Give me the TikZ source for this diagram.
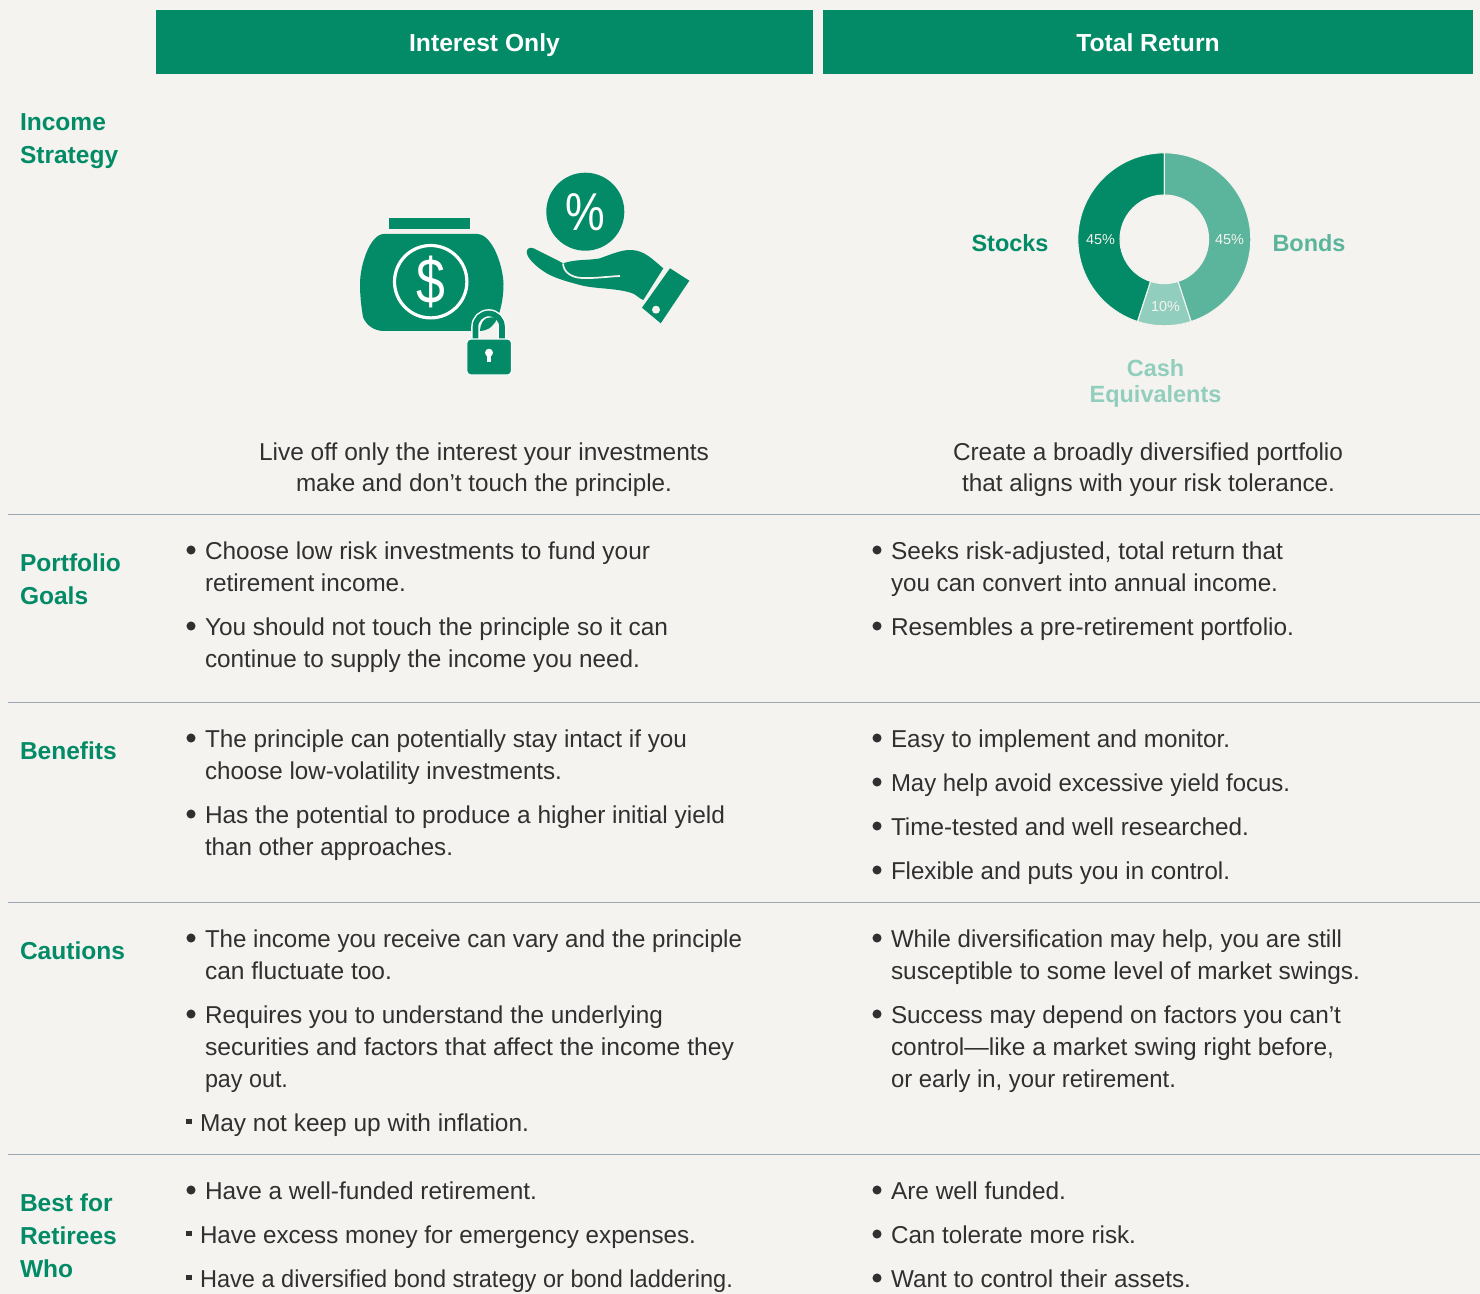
\documentclass[tikz,border=0pt]{standalone}
\usepackage{graphicx}
\usepackage{fontspec}
\setmainfont{Liberation Sans}
\definecolor{bgc}{HTML}{F4F3EF}
\definecolor{grn}{HTML}{028B66}
\definecolor{grnb}{HTML}{5BB59C}
\definecolor{grnc}{HTML}{92CEBD}
\definecolor{txtc}{HTML}{303030}
\definecolor{rulec}{HTML}{9AA6B2}
\newcount\itemno
\newdimen\fitw
\tikzset{
  bodytext/.style={inner sep=0pt,outer sep=0pt,anchor=base west,text=txtc,font=\fontsize{18.3}{22}\selectfont},
  headtext/.style={inner sep=0pt,outer sep=0pt,anchor=base west,text=grn,font=\fontsize{18.4}{22}\selectfont\bfseries},
  keytext/.style={inner sep=0pt,outer sep=0pt,anchor=base,font=\fontsize{17.6}{22}\selectfont\bfseries},
  pcttext/.style={inner sep=0pt,outer sep=0pt,anchor=center,text=bgc,font=\fontsize{10.8}{12}\selectfont},
  bannerbox/.style={fill=grn,draw=none,inner sep=0pt,text=white,text height=18pt,text depth=4pt,font=\fontsize{18.5}{22}\selectfont\bfseries},
  rowrule/.style={draw=rulec,line width=0.75pt},
  roundbullet/.style={circle,fill=txtc,draw=none,inner sep=0pt,minimum size=6.8pt},
  squarebullet/.style={rectangle,fill=txtc,draw=none,inner sep=0pt,minimum size=4.4pt},
  wedgesep/.style={draw=bgc,line width=0.8pt,line join=round}
}
% #1 text start x, #2 text end x, #3 centre y of the line, #4 text
\newcommand{\plainline}[4]{\global\advance\itemno by 1
  \node[bodytext] (line\the\itemno) at (#1,#3+8.3) {\fitw=\dimexpr 0.75pt*(#2-#1)\relax\resizebox{\fitw}{\height}{#4}};}
\newcommand{\rbul}[4]{\global\advance\itemno by 1
  \node[roundbullet] (bul\the\itemno) at (#1-14,#3-1) {};
  \plainline{#1}{#2}{#3}{#4}}
\newcommand{\sbul}[4]{\global\advance\itemno by 1
  \node[squarebullet] (bul\the\itemno) at (#1-11,#3-1.5) {};
  \plainline{#1}{#2}{#3}{#4}}
\begin{document}
\begin{tikzpicture}[x=0.75pt,y=-0.75pt]
\useasboundingbox (0,0) rectangle (1480,1294);
\fill[bgc] (0,0) rectangle (1480,1294);
% banners
\node[bannerbox,minimum width=492.75pt,minimum height=48pt] (bannerA) at (484.5,42) {Interest Only};
\node[bannerbox,minimum width=487.5pt,minimum height=48pt] (bannerB) at (1148,42) {Total Return};
% rules
\foreach \yy in {514.5,702.5,902.5,1154.5} \draw[rowrule] (8,\yy) -- (1480,\yy);
% row heads
\node[headtext] (h1a) at (20,130.5) {Income};
\node[headtext] (h1b) at (20,163.5) {Strategy};
\node[headtext] (h2a) at (20,571.5) {Portfolio};
\node[headtext] (h2b) at (20,604.5) {Goals};
\node[headtext] (h3) at (20,759.5) {Benefits};
\node[headtext] (h4) at (20,959.5) {Cautions};
\node[headtext] (h5a) at (20,1211.5) {Best for};
\node[headtext] (h5b) at (20,1244.5) {Retirees};
\node[headtext] (h5c) at (20,1277.5) {Who};
% bag icon
\fill[grn] (389,218) rectangle (470,229);
\fill[grn] (384,234) -- (477,234) .. controls (492,234) and (503,265) .. (503.5,284) .. controls (503.5,295) and (502,305) .. (498,317) .. controls (494,326) and (486,331) .. (478,331) -- (384,331) .. controls (374,331) and (366,325) .. (363,317) .. controls (361,305) and (360,295) .. (360,284) .. controls (360,265) and (370,234) .. (384,234) -- cycle;
\draw[white,line width=2.4pt] (430.7,281.7) circle (36.2);
\node[inner sep=0pt,text=white,xscale=1.05,yscale=1.3,font=\fontsize{37}{40}\selectfont] (dollar) at (430.7,281.5) {\$};
% lock
\fill[bgc] (475.5,342) -- (475.5,326.7) arc[start angle=180,end angle=360,radius=13.25] -- (502,342) -- cycle;
\draw[white,line width=6.4pt] (475.5,342) -- (475.5,326.7) arc[start angle=180,end angle=360,radius=13.25] -- (502,342);
\fill[bgc] (479.5,342) -- (479.5,322) -- (498,322) -- (498,342) -- cycle;
\fill[grn] (480,331) .. controls (480.5,323) and (484,317.5) .. (490,317.5) -- (497.3,317.5) .. controls (495,325) and (489,330.5) .. (480,331) -- cycle;
\draw[grn,line width=4.2pt] (475.5,342) -- (475.5,326.7) arc[start angle=180,end angle=360,radius=13.25] -- (502,342);
\fill[grn,draw=white,line width=0.8pt,rounded corners=3pt] (466.8,339) rectangle (511.5,375);
\fill[white] (489,352.7) circle (4);
\fill[white] (487.3,353) rectangle (490.7,362);
% percent + hand
\fill[grn] (585.3,211.7) circle (39);
\node[inner sep=0pt,text=white,xscale=0.88,yscale=1.05,font=\fontsize{38}{40}\selectfont] (percent) at (585.3,212) {\%};
\fill[grn] (526.7,252) .. controls (527,248) and (530,247) .. (534,248.5) -- (563.3,263.3) .. controls (575,259) and (590,260.5) .. (600,258.3) .. controls (612,254) and (622,249.5) .. (632,250) .. controls (645,251) and (652,259) .. (663.3,268.3) -- (643.3,300) .. controls (638,298) and (637,294.5) .. (630,292.5) .. controls (615,288) and (595,289) .. (580,285) .. controls (565,281) and (555,278) .. (546.7,273.3) .. controls (538,268) and (527,259) .. (526.7,252) -- cycle;
\draw[bgc,line width=1.3pt] (563,263.5) .. controls (563.5,272) and (571,277.5) .. (582,278) .. controls (595,278.5) and (608,276.5) .. (620,276);
\fill[grn] (670,268.3) -- (689.3,280.7) -- (660.7,323.3) -- (642,307.7) -- cycle;
\fill[bgc] (656,309.7) circle (4);
% donut
\begin{scope}[shift={(1164.3,239.3)},x=0.75pt,y=0.75pt]
\filldraw[fill=grn,wedgesep] (90:86.5) arc[start angle=90,end angle=252,radius=86.5] -- (252:44.3) arc[start angle=252,end angle=90,radius=44.3] -- cycle;
\filldraw[fill=grnb,wedgesep] (90:86.5) arc[start angle=90,end angle=-72,radius=86.5] -- (-72:44.3) arc[start angle=-72,end angle=90,radius=44.3] -- cycle;
\filldraw[fill=grnc,wedgesep] (252:86.5) arc[start angle=252,end angle=288,radius=86.5] -- (288:44.3) arc[start angle=288,end angle=252,radius=44.3] -- cycle;
\end{scope}
\node[pcttext] (p1) at (1100.5,239.5) {45\%};
\node[pcttext] (p2) at (1229.5,239.5) {45\%};
\node[pcttext] (p3) at (1165.5,306.5) {10\%};
\node[keytext,text=grn] (kstocks) at (1010,251.5) {Stocks};
\node[keytext,text=grnb] (kbonds) at (1309,251.5) {Bonds};
\node[keytext,text=grnc] (kcash) at (1155.5,376) {Cash};
\node[keytext,text=grnc] (kequiv) at (1155.5,402) {Equivalents};
% intro sentences
\plainline{259}{709}{452}{Live off only the interest your investments}
\plainline{296}{672}{483}{make and don’t touch the principle.}
\plainline{953}{1343}{452}{Create a broadly diversified portfolio}
\plainline{962}{1335}{483}{that aligns with your risk tolerance.}
% left column
\rbul{205}{650}{551}{Choose low risk investments to fund your}
\plainline{205}{406}{583}{retirement income.}
\rbul{205}{668}{627}{You should not touch the principle so it can}
\plainline{205}{640}{659}{continue to supply the income you need.}
\rbul{205}{687}{739}{The principle can potentially stay intact if you}
\plainline{205}{562}{771}{choose low-volatility investments.}
\rbul{205}{725}{815}{Has the potential to produce a higher initial yield}
\plainline{205}{453}{847}{than other approaches.}
\rbul{205}{742}{939}{The income you receive can vary and the principle}
\plainline{205}{392}{971}{can fluctuate too.}
\rbul{205}{663}{1015}{Requires you to understand the underlying}
\plainline{205}{734}{1047}{securities and factors that affect the income they}
\plainline{205}{288}{1079}{pay out.}
\sbul{200}{529}{1123}{May not keep up with inflation.}
\rbul{205}{537}{1191}{Have a well-funded retirement.}
\sbul{200}{696}{1235}{Have excess money for emergency expenses.}
\sbul{200}{733}{1279}{Have a diversified bond strategy or bond laddering.}
% right column
\rbul{891}{1283}{551}{Seeks risk-adjusted, total return that}
\plainline{891}{1278}{583}{you can convert into annual income.}
\rbul{891}{1294}{627}{Resembles a pre-retirement portfolio.}
\rbul{891}{1230}{739}{Easy to implement and monitor.}
\rbul{891}{1290}{783}{May help avoid excessive yield focus.}
\rbul{891}{1249}{827}{Time-tested and well researched.}
\rbul{891}{1230}{871}{Flexible and puts you in control.}
\rbul{891}{1342}{939}{While diversification may help, you are still}
\plainline{891}{1360}{971}{susceptible to some level of market swings.}
\rbul{891}{1341}{1015}{Success may depend on factors you can’t}
\plainline{891}{1334}{1047}{control—like a market swing right before,}
\plainline{891}{1176}{1079}{or early in, your retirement.}
\rbul{891}{1066}{1191}{Are well funded.}
\rbul{891}{1136}{1235}{Can tolerate more risk.}
\rbul{891}{1191}{1279}{Want to control their assets.}
\end{tikzpicture}
\end{document}
